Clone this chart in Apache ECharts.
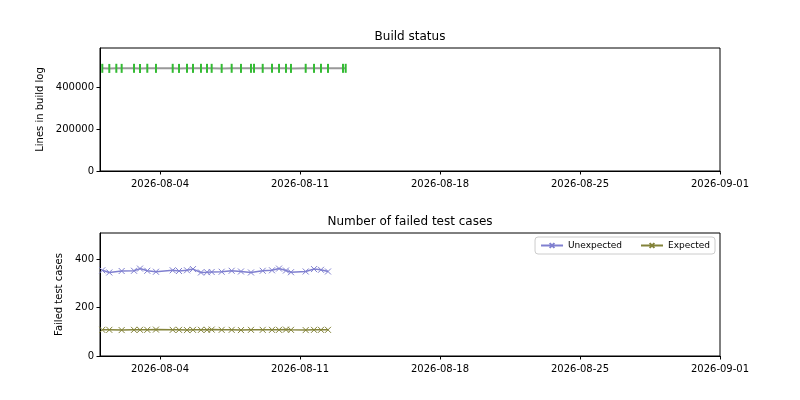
<!DOCTYPE html>
<html lang="en">
<head>
    <meta charset="UTF-8">
    <title>Build status</title>
    <script src="https://cdn.jsdelivr.net/npm/echarts@6/dist/echarts.min.js"></script>
</head>
<body style="margin:0">

<div id="main" style="width: 800px;height:400px;"></div>

<script type="text/javascript">
    // build runs (UTC) and how long each build log was
    var buildTimes = [
        '2026-08-01 02:45', '2026-08-01 11:10', '2026-08-01 19:35', '2026-08-02 02:00',
        '2026-08-02 16:50', '2026-08-03 00:00', '2026-08-03 08:45', '2026-08-03 19:10',
        '2026-08-04 15:15', '2026-08-04 22:50', '2026-08-05 08:25', '2026-08-05 15:35',
        '2026-08-06 01:10', '2026-08-06 08:25', '2026-08-06 14:00', '2026-08-07 02:00',
        '2026-08-07 14:00', '2026-08-08 01:10', '2026-08-08 13:10', '2026-08-08 16:50',
        '2026-08-09 03:15', '2026-08-09 14:25', '2026-08-09 22:50', '2026-08-10 07:10',
        '2026-08-10 13:10', '2026-08-11 06:50', '2026-08-11 16:50', '2026-08-12 01:10',
        '2026-08-12 09:35', '2026-08-13 03:35', '2026-08-13 06:50'
    ];
    var buildLines = [
        490000, 489500, 490200, 489800, 490100, 489700, 490300, 489900,
        490000, 489600, 490200, 489800, 490100, 489900, 490000, 489700,
        490200, 489800, 490000, 490100, 489900, 490300, 489800, 490000,
        489700, 490100, 489900, 490200, 489800, 490000, 490100
    ];

    // builds that produced test results
    var testTimes = [
        '2026-08-01 02:45', '2026-08-01 11:10', '2026-08-02 02:00', '2026-08-02 16:50',
        '2026-08-03 00:00', '2026-08-03 08:45', '2026-08-03 19:10', '2026-08-04 15:15',
        '2026-08-04 22:50', '2026-08-05 08:25', '2026-08-05 15:35', '2026-08-06 01:10',
        '2026-08-06 08:25', '2026-08-06 14:00', '2026-08-07 02:00', '2026-08-07 14:00',
        '2026-08-08 01:10', '2026-08-08 13:10', '2026-08-09 03:15', '2026-08-09 14:25',
        '2026-08-09 22:50', '2026-08-10 07:10', '2026-08-10 13:10', '2026-08-11 06:50',
        '2026-08-11 16:50', '2026-08-12 01:10', '2026-08-12 09:35'
    ];
    var unexpected = [
        354, 345, 351, 352, 361, 352, 348, 354,
        351, 354, 359, 345, 346, 347, 348, 352,
        349, 345, 352, 354, 361, 353, 346, 349,
        359, 356, 349
    ];
    var expected = [
        108, 108, 107, 108, 108, 108, 109, 108,
        108, 107, 108, 108, 108, 109, 108, 108,
        107, 108, 108, 108, 108, 109, 108, 107,
        108, 108, 108
    ];

    var xTicks = ['2026-08-04', '2026-08-11', '2026-08-18', '2026-08-25', '2026-09-01'];
    var buildTicks = [0, 200000, 400000];
    var testTicks = [0, 200, 400];

    function ts(s) {
        var p = s.split(/[- :]/);
        return Date.UTC(+p[0], +p[1] - 1, +p[2], +(p[3] || 0), +(p[4] || 0));
    }
    function pad(n) { return n < 10 ? '0' + n : '' + n; }
    function fmtDay(v) {
        var d = new Date(v);
        return d.getUTCFullYear() + '-' + pad(d.getUTCMonth() + 1) + '-' + pad(d.getUTCDate());
    }
    function pairs(times, vals) {
        return times.map(function (t, i) { return [ts(t), vals[i]]; });
    }

    var xMin = ts('2026-08-01'), xMax = ts('2026-09-01');
    var xTickVals = xTicks.map(ts);
    var font = 'DejaVu Sans';
    var crossSym = 'path://M0,0L10,10M10,0L0,10';

    function xAxis(gi) {
        return {
            type: 'value', gridIndex: gi, min: xMin, max: xMax,
            axisLine: { lineStyle: { color: '#000' } },
            axisTick: { customValues: xTickVals, length: 3.5, lineStyle: { color: '#000' } },
            axisLabel: {
                customValues: xTickVals, formatter: fmtDay,
                color: '#000', fontFamily: font, fontSize: 10, margin: 8
            },
            splitLine: { show: false }
        };
    }
    function yAxis(gi, name, max, ticks, gap) {
        return {
            type: 'value', gridIndex: gi, min: 0, max: max,
            name: name, nameLocation: 'middle', nameGap: gap,
            nameTextStyle: { color: '#000', fontFamily: font, fontSize: 10 },
            axisLine: { show: true, lineStyle: { color: '#000' } },
            axisTick: { show: true, customValues: ticks, length: 3.5, lineStyle: { color: '#000' } },
            axisLabel: {
                customValues: ticks, formatter: function (v) { return String(v); },
                color: '#000', fontFamily: font, fontSize: 10, margin: 6
            },
            splitLine: { show: false }
        };
    }

    var myChart = echarts.init(document.getElementById('main'));

    var option = {
        animation: false,
        backgroundColor: '#fff',
        title: [
            { text: 'Build status', left: 410, top: 31, textAlign: 'center', padding: 0,
              textStyle: { fontFamily: font, fontSize: 12, fontWeight: 'normal', color: '#000' } },
            { text: 'Number of failed test cases', left: 410, top: 216, textAlign: 'center', padding: 0,
              textStyle: { fontFamily: font, fontSize: 12, fontWeight: 'normal', color: '#000' } }
        ],
        grid: [
            { left: 100, width: 620, top: 48, height: 123, show: true, borderColor: '#000', borderWidth: 1 },
            { left: 100, width: 620, top: 233, height: 123, show: true, borderColor: '#000', borderWidth: 1 }
        ],
        legend: {
            data: ['Unexpected', 'Expected'],
            right: 85, top: 237,
            itemWidth: 22, itemHeight: 6, itemGap: 18,
            padding: [4, 5],
            borderColor: '#ccc', borderWidth: 1, borderRadius: 3,
            textStyle: { fontFamily: font, fontSize: 9, color: '#000' }
        },
        xAxis: [xAxis(0), xAxis(1)],
        yAxis: [
            yAxis(0, 'Lines in build log', 587000, buildTicks, 52),
            yAxis(1, 'Failed test cases', 508, testTicks, 35)
        ],
        series: [
            {
                name: 'Build log', type: 'line', xAxisIndex: 0, yAxisIndex: 0,
                data: pairs(buildTimes, buildLines),
                symbol: 'rect', symbolSize: [2, 9],
                itemStyle: { color: '#33bb33' },
                lineStyle: { color: '#999', width: 2 }
            },
            {
                name: 'Unexpected', type: 'line', xAxisIndex: 1, yAxisIndex: 1,
                data: pairs(testTimes, unexpected),
                symbol: crossSym, symbolSize: 6,
                itemStyle: { color: '#8080d0', borderColor: '#8080d0', borderWidth: 1 },
                lineStyle: { color: '#8080d0', width: 1.5 }
            },
            {
                name: 'Expected', type: 'line', xAxisIndex: 1, yAxisIndex: 1,
                data: pairs(testTimes, expected),
                symbol: crossSym, symbolSize: 6,
                itemStyle: { color: '#83833a', borderColor: '#83833a', borderWidth: 1 },
                lineStyle: { color: '#83833a', width: 1.5 }
            }
        ]
    };

    myChart.setOption(option);
</script>
</body>
</html>
